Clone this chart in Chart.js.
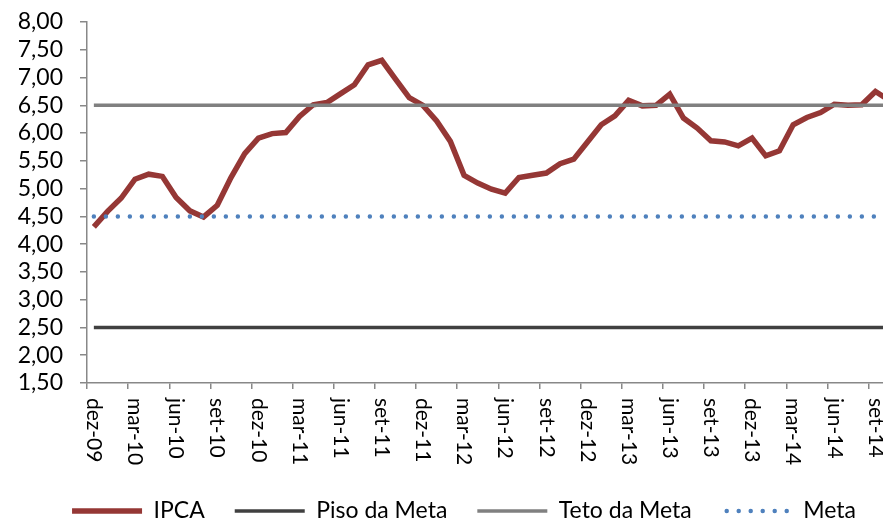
<!DOCTYPE html>
<html>
<head>
<meta charset="utf-8">
<script src="https://cdn.jsdelivr.net/npm/chart.js@4.4.1/dist/chart.umd.min.js"></script>
<style>
  html, body { margin: 0; padding: 0; background: #fff; overflow: hidden; }
  #wrap { width: 896px; height: 523px; }
</style>
</head>
<body>
<div id="wrap"><canvas id="chart"></canvas></div>
<script>
// months, dez-09 .. out-14
const months = [
  'dez-09',
  'jan-10', 'fev-10', 'mar-10', 'abr-10', 'mai-10', 'jun-10', 'jul-10', 'ago-10', 'set-10', 'out-10', 'nov-10', 'dez-10',
  'jan-11', 'fev-11', 'mar-11', 'abr-11', 'mai-11', 'jun-11', 'jul-11', 'ago-11', 'set-11', 'out-11', 'nov-11', 'dez-11',
  'jan-12', 'fev-12', 'mar-12', 'abr-12', 'mai-12', 'jun-12', 'jul-12', 'ago-12', 'set-12', 'out-12', 'nov-12', 'dez-12',
  'jan-13', 'fev-13', 'mar-13', 'abr-13', 'mai-13', 'jun-13', 'jul-13', 'ago-13', 'set-13', 'out-13', 'nov-13', 'dez-13',
  'jan-14', 'fev-14', 'mar-14', 'abr-14', 'mai-14', 'jun-14', 'jul-14', 'ago-14', 'set-14', 'out-14'
];

// IPCA acumulado 12 meses (%)
const ipca = [
  4.31,
  4.59, 4.83, 5.17, 5.26, 5.22, 4.84, 4.60, 4.49, 4.70, 5.20, 5.63, 5.91,
  5.99, 6.01, 6.30, 6.51, 6.55, 6.71, 6.87, 7.23, 7.31, 6.97, 6.64, 6.50,
  6.22, 5.85, 5.24, 5.10, 4.99, 4.92, 5.20, 5.24, 5.28, 5.45, 5.53, 5.84,
  6.15, 6.31, 6.59, 6.49, 6.50, 6.70, 6.27, 6.09, 5.86, 5.84, 5.77, 5.91,
  5.59, 5.68, 6.15, 6.28, 6.37, 6.52, 6.50, 6.51, 6.75, 6.59
];

const pisoMeta = months.map(() => 2.5);
const tetoMeta = months.map(() => 6.5);
const meta = months.map(() => 4.5);

const yMin = 1.5;
const yMax = 8;
const yStep = 0.5;

const FONT = 'Lato';
const LEGEND_SIZE = 23;
const LEGEND_SHIFT = 32; // legend sits a bit right of centre in the original

// x labels are drawn reading downward (clockwise), like the original
const xLabelsPlugin = {
  id: 'xLabels',
  afterDraw(chart) {
    const xs = chart.scales.x;
    const ctx = chart.ctx;
    ctx.save();
    ctx.font = '21px ' + FONT;
    ctx.fillStyle = '#000';
    ctx.textAlign = 'left';
    ctx.textBaseline = 'middle';
    months.forEach((m, i) => {
      if (i % 3 !== 0) return;
      const x = xs.getPixelForValue(i);
      ctx.save();
      ctx.translate(x, xs.top + 15);
      ctx.rotate(Math.PI / 2);
      ctx.fillText(m, 0, 0);
      ctx.restore();
    });
    ctx.restore();
  }
};

// move the legend row to the right, and draw the dotted "Meta" symbol
const legendPlugin = {
  id: 'legendTweak',
  afterLayout(chart) {
    const lg = chart.legend;
    lg.left += LEGEND_SHIFT;
    lg.legendHitBoxes.forEach((hb) => { hb.left += LEGEND_SHIFT / 2; });
  },
  afterDraw(chart) {
    const lg = chart.legend;
    lg.legendItems.forEach((item, i) => {
      if (item.text !== 'Meta') return;
      const hb = lg.legendHitBoxes[i];
      const ctx = chart.ctx;
      const y = hb.top + LEGEND_SIZE / 2;
      ctx.save();
      ctx.strokeStyle = '#4F81BD';
      ctx.lineWidth = 4.5;
      ctx.lineCap = 'round';
      ctx.setLineDash([0, 12]);
      ctx.beginPath();
      ctx.moveTo(hb.left + 5, y);
      ctx.lineTo(hb.left + 70, y);
      ctx.stroke();
      ctx.restore();
    });
  }
};

const ctx = document.getElementById('chart').getContext('2d');
new Chart(ctx, {
  type: 'line',
  data: {
    labels: months,
    datasets: [
      {
        label: 'IPCA',
        data: ipca,
        borderColor: '#953735',
        backgroundColor: '#953735',
        borderWidth: 5.5,
        pointRadius: 0,
        pointStyle: 'line',
        tension: 0,
        order: 1
      },
      {
        label: 'Piso da Meta',
        data: pisoMeta,
        borderColor: '#404040',
        backgroundColor: '#404040',
        borderWidth: 3.5,
        pointRadius: 0,
        pointStyle: 'line'
      },
      {
        label: 'Teto da Meta',
        data: tetoMeta,
        borderColor: '#808080',
        backgroundColor: '#808080',
        borderWidth: 3.5,
        pointRadius: 0,
        pointStyle: 'line'
      },
      {
        label: 'Meta',
        data: meta,
        borderColor: '#4F81BD',
        backgroundColor: '#4F81BD',
        borderWidth: 4.5,
        borderDash: [0, 12],
        borderCapStyle: 'round',
        pointRadius: 0,
        pointStyle: 'line'
      }
    ]
  },
  options: {
    responsive: true,
    maintainAspectRatio: false,
    animation: false,
    layout: { padding: { top: 22, right: 0, bottom: 0, left: 0 } },
    scales: {
      x: {
        offset: true,
        grid: {
          offset: true,
          drawOnChartArea: false,
          tickLength: 6,
          lineWidth: 1.5,
          tickColor: (c) => (c.index !== undefined && c.index % 3 === 0) ? '#888888' : 'rgba(0,0,0,0)'
        },
        border: { color: '#888888', width: 1.5 },
        ticks: { display: false, autoSkip: false },
        afterFit: (s) => { s.height = 86.5; }
      },
      y: {
        min: yMin,
        max: yMax,
        grid: { drawOnChartArea: false, tickLength: 7, color: '#888888', lineWidth: 1.5 },
        border: { color: '#888888', width: 1.5 },
        ticks: {
          stepSize: yStep,
          autoSkip: false,
          padding: 17,
          color: '#000',
          font: { family: FONT, size: 23 },
          callback: (v) => v.toFixed(2).replace('.', ',')
        },
        afterFit: (s) => {
          s.width = 87;
          s.paddingTop = 0;
          s.paddingBottom = 0;
        }
      }
    },
    plugins: {
      legend: {
        position: 'bottom',
        maxHeight: 53.5,
        labels: {
          usePointStyle: true,
          pointStyleWidth: 70,
          boxHeight: 5,
          padding: 30,
          color: '#000',
          font: { family: FONT, size: LEGEND_SIZE },
          sort: (a, b) => a.datasetIndex - b.datasetIndex,
          generateLabels: (chart) => {
            const items = Chart.defaults.plugins.legend.labels.generateLabels(chart);
            items.forEach((it) => {
              if (it.text === 'Meta') it.strokeStyle = 'rgba(0,0,0,0)';
            });
            return items;
          }
        }
      },
      tooltip: { enabled: false }
    }
  },
  plugins: [xLabelsPlugin, legendPlugin]
});
</script>
</body>
</html>
